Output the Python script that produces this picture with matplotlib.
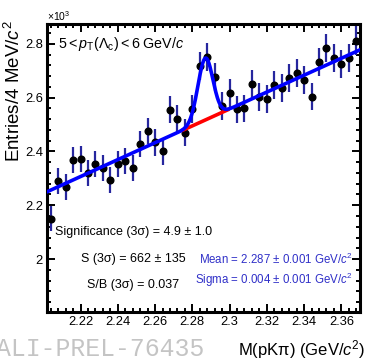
import numpy as np
import matplotlib
matplotlib.use("Agg")
import matplotlib.pyplot as plt
from matplotlib.ticker import MultipleLocator, FuncFormatter

plt.rcParams["font.family"] = ["Liberation Sans", "DejaVu Sans"]
plt.rcParams["mathtext.fontset"] = "custom"
plt.rcParams["mathtext.rm"] = "Liberation Sans"
plt.rcParams["mathtext.it"] = "Liberation Sans:italic"
plt.rcParams["mathtext.bf"] = "Liberation Sans:bold"

# invariant mass bin centres (GeV/c^2), 4 MeV bins
mass = np.round(np.arange(2.204, 2.3681, 0.004), 3)
# entries per bin
counts = np.array([
    2149, 2290, 2268, 2368, 2372, 2320, 2353, 2339, 2294, 2353,
    2365, 2339, 2428, 2476, 2434, 2400, 2556, 2521, 2470, 2558,
    2718, 2750, 2677, 2569, 2617, 2557, 2561, 2651, 2602, 2595,
    2647, 2635, 2672, 2691, 2666, 2604, 2734, 2784, 2747, 2726,
    2747, 2812,
])

# fit: linear background + gaussian (in 10^3 entries)
bkg_lo, bkg_hi = 2.250, 2.778   # background at x limits
x_lo, x_hi = 2.202, 2.370
g_amp, g_mean, g_sigma = 0.230, 2.287, 0.004

y = counts / 1000.0
yerr = np.sqrt(counts) / 1000.0

def bkg(m):
    return bkg_lo + (bkg_hi - bkg_lo) * (m - x_lo) / (x_hi - x_lo)

def total(m):
    return bkg(m) + g_amp * np.exp(-0.5 * ((m - g_mean) / g_sigma) ** 2)

W, H = 366, 362
fig = plt.figure(figsize=(W / 100, H / 100), dpi=100)
ax = fig.add_axes([47 / W, 1 - 312 / H, 313 / W, 288 / H])

ax.errorbar(mass, y, yerr=yerr, fmt="o", color="black", ms=4.8,
            ecolor="#26269e", elinewidth=1.6, capsize=0, zorder=2)

mfit = np.linspace(x_lo, x_hi, 600)
msig = np.linspace(g_mean - 3 * g_sigma, g_mean + 3 * g_sigma, 50)
ax.plot(msig, bkg(msig), color="red", lw=2.6, zorder=3)
ax.plot(mfit, total(mfit), color="blue", lw=2.6, zorder=4)

ax.set_xlim(x_lo, x_hi)
ax.set_ylim(1.803, 2.874)
ax.xaxis.set_major_locator(MultipleLocator(0.02))
ax.xaxis.set_minor_locator(MultipleLocator(0.004))
ax.yaxis.set_major_locator(MultipleLocator(0.2))
ax.yaxis.set_minor_locator(MultipleLocator(0.04))
fmt = FuncFormatter(lambda v, p: f"{round(v, 3):g}")
ax.xaxis.set_major_formatter(fmt)
ax.yaxis.set_major_formatter(fmt)
ax.tick_params(which="both", direction="in", top=True, right=True, width=1.4,
               labelsize=9.3, pad=3)
ax.tick_params(which="major", length=5.8)
ax.tick_params(which="minor", length=3)
for s in ax.spines.values():
    s.set_linewidth(2.2)

ax.text(0.035, 0.931, r"$5 < p_{\mathrm{T}}(\Lambda_{\mathrm{c}}) < 6$ GeV/$c$",
        transform=ax.transAxes, fontsize=10.3, va="center", ha="left")
ax.text(0.275, 0.278, "Significance (3σ) = 4.9 ± 1.0", transform=ax.transAxes,
        fontsize=9, ha="center", va="center")
ax.text(0.275, 0.184, "S (3σ) = 662 ± 135", transform=ax.transAxes,
        fontsize=9, ha="center", va="center")
ax.text(0.275, 0.094, "S/B (3σ) = 0.037", transform=ax.transAxes,
        fontsize=9, ha="center", va="center")
ax.text(0.978, 0.181, r"Mean = 2.287 ± 0.001 GeV/$c^{2}$", transform=ax.transAxes,
        fontsize=8.3, ha="right", va="center", color="#3030c8")
ax.text(0.978, 0.111, r"Sigma = 0.004 ± 0.001 GeV/$c^{2}$", transform=ax.transAxes,
        fontsize=8.3, ha="right", va="center", color="#3030c8")

fig.text(47 / W, 1 - 16 / H, r"$\times10^{3}$", fontsize=7.5, ha="left", va="center")
fig.text(14 / W, 1 - 20 / H, r"Entries/4 MeV/$c^{2}$", rotation=90, fontsize=13.5,
         ha="center", va="top")
fig.text(365 / W, 1 - 350 / H, r"M(pKπ) (GeV/$c^{2}$)", fontsize=12,
         ha="right", va="center")
fig.text(-4 / W, 1 - 349 / H, "ALI-PREL-76435", fontsize=17.8, color="#c4c4c4",
         ha="left", va="center", family=["Liberation Mono", "DejaVu Sans Mono"])

fig.savefig("out.png", dpi=100)
